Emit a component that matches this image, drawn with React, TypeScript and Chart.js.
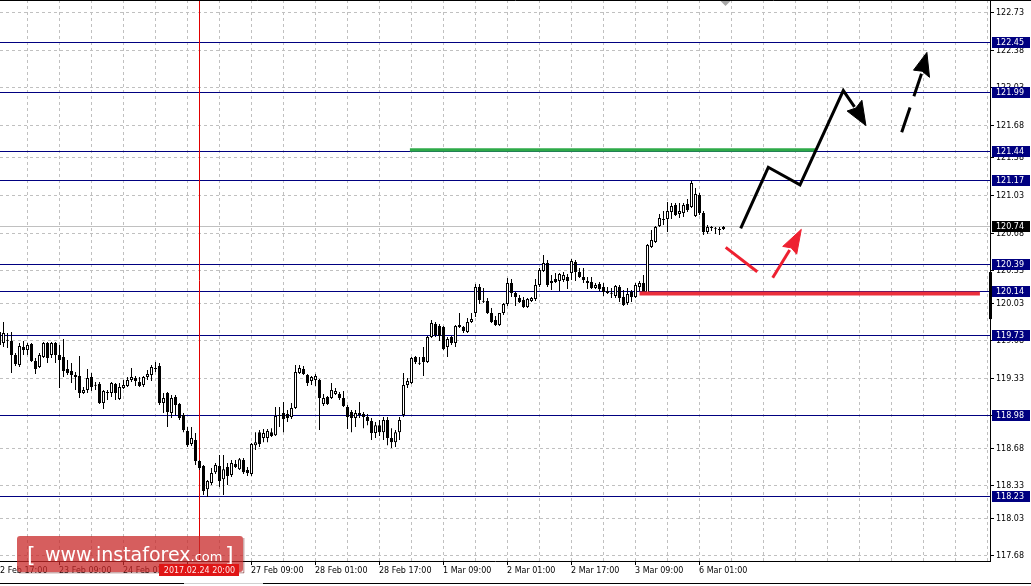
import React, { useEffect, useRef } from "react";
import { Chart, registerables } from "chart.js";

Chart.register(...registerables);

// ---- Candles (H1 USDJPY) ----
const OPEN = [
  119.760, 119.658, 119.686, 119.677, 119.547, 119.454, 119.621, 119.593, 119.649, 119.491,
  119.435, 119.528, 119.658, 119.547, 119.658, 119.547, 119.528, 119.416, 119.398, 119.361,
  119.351, 119.193, 119.221, 119.342, 119.268, 119.277, 119.100, 119.202, 119.193, 119.277,
  119.137, 119.240, 119.258, 119.314, 119.333, 119.295, 119.268, 119.342, 119.361, 119.426,
  119.444, 119.100, 119.193, 119.007, 119.156, 119.091, 118.989, 118.840, 118.719, 118.756,
  118.561, 118.514, 118.300, 118.356, 118.458, 118.514, 118.393, 118.505, 118.431, 118.533,
  118.486, 118.570, 118.477, 118.440, 118.709, 118.830, 118.775, 118.775, 118.830, 118.802,
  118.979, 119.007, 118.998, 118.970, 119.054, 119.379, 119.416, 119.361, 119.305, 119.314,
  119.314, 119.091, 119.156, 119.147, 119.184, 119.184, 119.147, 119.063, 119.016, 118.961,
  119.007, 118.998, 118.970, 118.933, 118.821, 118.895, 118.830, 118.942, 118.775, 118.737,
  118.830, 118.989, 119.268, 119.286, 119.528, 119.472, 119.528, 119.481, 119.714, 119.835,
  119.816, 119.807, 119.621, 119.714, 119.658, 119.807, 119.807, 119.760, 119.853, 119.937,
  120.179, 120.049, 120.049, 119.937, 119.872, 119.826, 119.937, 120.021, 120.216, 120.123,
  120.077, 120.058, 119.993, 120.049, 120.068, 120.198, 120.328, 120.402, 120.216, 120.254,
  120.235, 120.244, 120.272, 120.309, 120.411, 120.318, 120.272, 120.235, 120.226, 120.170,
  120.207, 120.179, 120.142, 120.123, 120.095, 120.179, 120.086, 120.030, 120.133, 120.086,
  120.179, 120.216, 120.123, 120.551, 120.597, 120.746, 120.802, 120.811, 120.876, 120.941,
  120.858, 120.867, 120.951, 120.923, 120.839, 121.035, 120.867, 120.690, 120.737, 120.728,
  120.709, 120.718,
];
const HIGH = [
  119.826, 119.853, 119.751, 119.760, 119.565, 119.658, 119.677, 119.658, 119.658, 119.519,
  119.565, 119.667, 119.667, 119.667, 119.667, 119.640, 119.695, 119.500, 119.472, 119.388,
  119.537, 119.249, 119.416, 119.379, 119.295, 119.295, 119.221, 119.221, 119.295, 119.286,
  119.286, 119.314, 119.342, 119.426, 119.351, 119.342, 119.351, 119.407, 119.454, 119.481,
  119.472, 119.193, 119.202, 119.175, 119.175, 119.100, 119.007, 118.877, 118.877, 118.821,
  118.570, 118.524, 118.384, 118.496, 118.542, 118.617, 118.617, 118.542, 118.570, 118.570,
  118.589, 118.589, 118.505, 118.728, 118.830, 118.849, 118.858, 118.858, 118.867, 119.063,
  119.063, 119.110, 119.035, 119.100, 119.454, 119.454, 119.444, 119.370, 119.351, 119.370,
  119.323, 119.184, 119.165, 119.286, 119.240, 119.202, 119.212, 119.082, 119.035, 119.035,
  119.110, 119.016, 118.998, 118.961, 118.923, 118.942, 118.970, 118.970, 118.867, 118.849,
  118.970, 119.379, 119.333, 119.528, 119.537, 119.528, 119.621, 119.723, 119.872, 119.853,
  119.835, 119.816, 119.714, 119.723, 119.826, 119.937, 119.816, 119.891, 119.937, 120.207,
  120.207, 120.170, 120.077, 119.984, 119.909, 119.937, 120.030, 120.263, 120.254, 120.133,
  120.105, 120.086, 120.077, 120.086, 120.254, 120.356, 120.477, 120.430, 120.291, 120.309,
  120.309, 120.318, 120.300, 120.439, 120.430, 120.356, 120.356, 120.272, 120.272, 120.216,
  120.226, 120.216, 120.179, 120.170, 120.198, 120.198, 120.151, 120.170, 120.151, 120.216,
  120.235, 120.291, 120.579, 120.709, 120.746, 120.858, 120.886, 120.969, 120.960, 120.960,
  120.960, 120.960, 120.997, 121.165, 121.100, 121.053, 120.886, 120.756, 120.746, 120.737,
  120.737, 120.746,
];
const LOW = [
  119.612, 119.621, 119.612, 119.379, 119.444, 119.435, 119.547, 119.547, 119.481, 119.370,
  119.426, 119.519, 119.472, 119.519, 119.472, 119.240, 119.342, 119.361, 119.286, 119.221,
  119.147, 119.184, 119.193, 119.212, 119.221, 119.091, 119.044, 119.128, 119.156, 119.128,
  119.128, 119.230, 119.249, 119.295, 119.258, 119.249, 119.249, 119.314, 119.305, 119.388,
  119.082, 119.007, 118.877, 118.961, 118.989, 118.942, 118.830, 118.691, 118.700, 118.524,
  118.477, 118.245, 118.226, 118.338, 118.440, 118.319, 118.245, 118.338, 118.412, 118.496,
  118.477, 118.440, 118.421, 118.421, 118.663, 118.691, 118.737, 118.737, 118.784, 118.793,
  118.877, 118.830, 118.923, 118.951, 119.044, 119.370, 119.361, 119.258, 119.268, 119.258,
  118.849, 119.072, 119.082, 119.137, 119.175, 119.128, 119.063, 118.858, 118.830, 118.877,
  118.961, 118.867, 118.895, 118.756, 118.775, 118.793, 118.756, 118.709, 118.682, 118.691,
  118.756, 118.970, 119.240, 119.277, 119.463, 119.454, 119.351, 119.472, 119.705, 119.714,
  119.677, 119.593, 119.528, 119.640, 119.621, 119.798, 119.751, 119.751, 119.844, 119.900,
  120.021, 120.030, 119.928, 119.844, 119.816, 119.816, 119.919, 120.002, 120.086, 120.002,
  120.030, 119.984, 119.984, 120.040, 120.049, 120.179, 120.318, 120.179, 120.151, 120.216,
  120.142, 120.226, 120.161, 120.244, 120.235, 120.263, 120.216, 120.161, 120.161, 120.161,
  120.142, 120.095, 120.114, 120.077, 120.077, 120.040, 120.002, 120.012, 120.040, 120.077,
  120.142, 120.123, 120.114, 120.542, 120.588, 120.737, 120.756, 120.690, 120.811, 120.839,
  120.821, 120.830, 120.876, 120.914, 120.830, 120.849, 120.663, 120.672, 120.700, 120.672,
  120.663, 120.709,
];
const CLOSE = [
  119.640, 119.751, 119.681, 119.547, 119.463, 119.630, 119.593, 119.640, 119.491, 119.416,
  119.547, 119.658, 119.519, 119.658, 119.547, 119.500, 119.398, 119.379, 119.361, 119.342,
  119.193, 119.221, 119.333, 119.249, 119.263, 119.100, 119.212, 119.193, 119.286, 119.193,
  119.249, 119.268, 119.314, 119.342, 119.305, 119.258, 119.342, 119.370, 119.435, 119.416,
  119.100, 119.147, 119.016, 119.147, 119.082, 118.961, 118.849, 118.709, 118.775, 118.561,
  118.496, 118.282, 118.375, 118.449, 118.524, 118.375, 118.486, 118.421, 118.542, 118.505,
  118.579, 118.458, 118.449, 118.719, 118.737, 118.719, 118.821, 118.840, 118.793, 118.979,
  118.989, 118.951, 118.961, 119.054, 119.388, 119.426, 119.370, 119.286, 119.342, 119.351,
  119.147, 119.147, 119.091, 119.221, 119.212, 119.147, 119.072, 118.970, 118.961, 119.007,
  118.989, 118.970, 118.933, 118.821, 118.895, 118.830, 118.942, 118.775, 118.737, 118.830,
  118.942, 119.268, 119.305, 119.519, 119.481, 119.467, 119.481, 119.714, 119.844, 119.733,
  119.723, 119.602, 119.695, 119.658, 119.816, 119.826, 119.770, 119.853, 119.881, 120.179,
  120.058, 120.044, 119.937, 119.853, 119.826, 119.937, 120.021, 120.216, 120.123, 120.086,
  120.040, 119.993, 120.068, 120.077, 120.198, 120.337, 120.402, 120.198, 120.235, 120.226,
  120.300, 120.291, 120.235, 120.421, 120.318, 120.272, 120.244, 120.216, 120.170, 120.198,
  120.161, 120.133, 120.123, 120.118, 120.188, 120.077, 120.012, 120.114, 120.086, 120.198,
  120.216, 120.133, 120.570, 120.616, 120.737, 120.821, 120.811, 120.886, 120.932, 120.849,
  120.886, 120.941, 120.895, 121.146, 121.044, 120.867, 120.690, 120.737, 120.728, 120.723,
  120.718, 120.737,
];

// ---- Levels, ticks, labels ----
const LEVELS = [122.45, 121.99, 121.44, 121.17, 120.39, 120.14, 119.73, 118.98, 118.23];
const CURRENT_PRICE = 120.74;
const Y_TICKS = [122.73, 122.38, 122.03, 121.68, 121.38, 121.03, 120.68, 120.33, 120.03,
  119.68, 119.33, 118.98, 118.68, 118.33, 118.03, 117.68];
const X_LABELS = ["22 Feb 17:00", "23 Feb 09:00", "24 Feb 01:00", "24 Feb 17:00", "27 Feb 09:00",
  "28 Feb 01:00", "28 Feb 17:00", "1 Mar 09:00", "2 Mar 01:00", "2 Mar 17:00", "3 Mar 09:00", "6 Mar 01:00"];
const X_LABEL_INDEX = [-1, 15, 31, 47, 63, 79, 95, 111, 127, 143, 159, 175];
const MARKER_INDEX = 50;
const MARKER_LABEL = "2017.02.24 20:00";

// ---- Drawn objects (bar index, price) ----
const GREEN_LINE = [{ x: 102.6, y: 121.452 }, { x: 204.1, y: 121.452 }];
const RED_LINE = [{ x: 160.0, y: 120.118 }, { x: 245.1, y: 120.118 }];
const BLACK_PATH = [
  { x: 185.3, y: 120.725 }, { x: 192.2, y: 121.292 }, { x: 200.125, y: 121.128 },
  { x: 210.95, y: 122.005 }, { x: 213.75, y: 121.854 },
];
const BLACK_DASHED = [{ x: 225.55, y: 121.618 }, { x: 230.5, y: 122.161 }];
const RED_DOWN = [{ x: 181.55, y: 120.548 }, { x: 189.45, y: 120.321 }];
const RED_UP = [{ x: 193.3, y: 120.265 }, { x: 197.55, y: 120.523 }];
// [tipX, tipY, leftX, leftY, rightX, rightY]
const BLACK_HEADS = [
  [216.6, 121.680, 211.9, 121.815, 215.6, 121.915],
  [231.85, 122.360, 228.5, 122.195, 232.5, 122.128],
];
const RED_HEADS = [[200.45, 120.715, 195.8, 120.556, 199.3, 120.484]];

// axis bounds
const X_MIN = 0.125;
const X_MAX = 247.625;
const Y_MIN = 117.632;
const Y_MAX = 122.847;

const FONT = '8px "DejaVu Sans", sans-serif';

const mt4Plugin = {
  id: "mt4",
  beforeDatasetsDraw(chart: any) {
    const { ctx, chartArea: a, scales } = chart;
    const x = scales.x;
    const y = scales.y;
    ctx.save();
    ctx.lineWidth = 1;
    const yc = Math.floor(y.getPixelForValue(CURRENT_PRICE)) + 0.5;
    ctx.strokeStyle = "#c0c0c0";
    ctx.beginPath();
    ctx.moveTo(a.left, yc);
    ctx.lineTo(a.right, yc);
    ctx.stroke();
    ctx.strokeStyle = "#000080";
    ctx.beginPath();
    for (const lv of LEVELS) {
      const py = Math.floor(y.getPixelForValue(lv)) + 0.5;
      ctx.moveTo(a.left, py);
      ctx.lineTo(a.right, py);
    }
    ctx.stroke();
    const mx = Math.floor(x.getPixelForValue(MARKER_INDEX)) + 0.5;
    ctx.strokeStyle = "#e00000";
    ctx.beginPath();
    ctx.moveTo(mx, a.top);
    ctx.lineTo(mx, a.bottom);
    ctx.stroke();
    ctx.restore();
  },
  afterDatasetsDraw(chart: any) {
    const { ctx, scales } = chart;
    const x = scales.x;
    const y = scales.y;
    const head = (h: number[], color: string) => {
      const tx = x.getPixelForValue(h[0]), ty = y.getPixelForValue(h[1]);
      const lx = x.getPixelForValue(h[2]), ly = y.getPixelForValue(h[3]);
      const rx = x.getPixelForValue(h[4]), ry = y.getPixelForValue(h[5]);
      const bx = (lx + rx) / 2, by = (ly + ry) / 2;
      const nx = bx + (tx - bx) * 0.12, ny = by + (ty - by) * 0.12;
      ctx.beginPath();
      ctx.moveTo(tx, ty);
      ctx.lineTo(lx, ly);
      ctx.lineTo(nx, ny);
      ctx.lineTo(rx, ry);
      ctx.closePath();
      ctx.fillStyle = color;
      ctx.fill();
      ctx.strokeStyle = color;
      ctx.lineWidth = 1;
      ctx.lineJoin = "round";
      ctx.stroke();
    };
    ctx.save();
    BLACK_HEADS.forEach((h) => head(h, "#000000"));
    RED_HEADS.forEach((h) => head(h, "#ee2030"));
    ctx.restore();
  },
  afterDraw(chart: any) {
    const { ctx, chartArea: a, scales, width } = chart;
    const x = scales.x;
    const y = scales.y;
    ctx.save();
    // frame
    ctx.strokeStyle = "#000";
    ctx.lineWidth = 1;
    ctx.beginPath();
    ctx.moveTo(0, 0.5);
    ctx.lineTo(width, 0.5);
    ctx.moveTo(a.right + 0.5, 0);
    ctx.lineTo(a.right + 0.5, a.bottom + 1);
    ctx.moveTo(0, a.bottom + 0.5);
    ctx.lineTo(a.right + 1, a.bottom + 0.5);
    ctx.stroke();
    // scroll bar on axis
    const sb1 = y.getPixelForValue(120.318), sb2 = y.getPixelForValue(119.881);
    ctx.fillStyle = "#000";
    ctx.fillRect(a.right - 1, sb1, 3, sb2 - sb1);
    // shift marker
    const sx = x.getPixelForValue(181.5);
    ctx.fillStyle = "#a8a8a8";
    ctx.beginPath();
    ctx.moveTo(sx - 5, 1);
    ctx.lineTo(sx + 5, 1);
    ctx.lineTo(sx, 6);
    ctx.closePath();
    ctx.fill();

    // y labels
    ctx.font = FONT;
    ctx.textAlign = "left";
    ctx.textBaseline = "middle";
    ctx.fillStyle = "#000";
    for (const v of Y_TICKS) {
      ctx.fillText(v.toFixed(2), a.right + 6, Math.floor(y.getPixelForValue(v)) + 1);
    }
    const box = (v: number, bg: string) => {
      const py = Math.floor(y.getPixelForValue(v));
      ctx.fillStyle = bg;
      ctx.fillRect(a.right + 2, py - 5, 38, 11);
      ctx.fillStyle = "#fff";
      ctx.fillText(v.toFixed(2), a.right + 6, py + 1);
    };
    LEVELS.forEach((lv) => box(lv, "#000080"));
    box(CURRENT_PRICE, "#000000");

    // x labels
    ctx.fillStyle = "#000";
    X_LABEL_INDEX.forEach((iv, k) => {
      ctx.fillText(X_LABELS[k], Math.round(x.getPixelForValue(iv)) - 1, a.bottom + 9.5);
    });

    // tab bar
    ctx.strokeStyle = "#000";
    ctx.beginPath();
    ctx.moveTo(0, 583.5);
    ctx.lineTo(184, 583.5);
    ctx.moveTo(263, 583.5);
    ctx.lineTo(width, 583.5);
    ctx.stroke();
    ctx.strokeStyle = "#d0d0d0";
    ctx.beginPath();
    ctx.moveTo(184, 583.5);
    ctx.lineTo(263, 583.5);
    ctx.stroke();

    // watermark
    ctx.fillStyle = "rgba(200,40,40,0.75)";
    ctx.beginPath();
    if ((ctx as any).roundRect) (ctx as any).roundRect(17, 536, 226, 36, 3);
    else ctx.rect(17, 536, 226, 36);
    ctx.fill();
    ctx.fillStyle = "rgba(110,20,20,0.35)";
    ctx.fillRect(19, 572, 225, 1.5);
    ctx.fillRect(243, 538, 1.5, 35);
    ctx.fillStyle = "#fff";
    ctx.textBaseline = "alphabetic";
    ctx.font = '19px "DejaVu Sans", sans-serif';
    ctx.fillText("www.instaforex", 45, 561);
    const w = ctx.measureText("www.instaforex").width;
    ctx.font = '13px "DejaVu Sans", sans-serif';
    ctx.fillText(".com", 45 + w, 561);
    ctx.font = '22px "DejaVu Sans", sans-serif';
    ctx.fillText("[", 27, 562);
    ctx.fillText("]", 225, 562);

    // marker date label
    ctx.font = FONT;
    ctx.textBaseline = "middle";
    const mx = Math.floor(x.getPixelForValue(MARKER_INDEX)) + 0.5;
    const tw = ctx.measureText(MARKER_LABEL).width + 9;
    ctx.fillStyle = "#e01515";
    ctx.fillRect(Math.round(mx - tw / 2), a.bottom + 3, Math.round(tw), 12);
    ctx.fillStyle = "#ffe8e8";
    ctx.textAlign = "center";
    ctx.fillText(MARKER_LABEL, mx, a.bottom + 9.5);
    ctx.restore();
  },
};

export default function App() {
  const ref = useRef<HTMLCanvasElement>(null);
  useEffect(() => {
    const canvas = ref.current;
    if (!canvas) return;
    const bodies = OPEN.map((o, i) => {
      const c = CLOSE[i];
      let lo = Math.min(o, c);
      let hi = Math.max(o, c);
      if (hi - lo < 0.006) {
        const m = (hi + lo) / 2;
        lo = m - 0.0047;
        hi = m + 0.0047;
      }
      return { x: i, y: [lo, hi] };
    });
    const bodyColors = OPEN.map((o, i) => (CLOSE[i] - o > 0.006 ? "#ffffff" : "#000000"));
    const wicks = OPEN.map((_, i) => ({ x: i, y: [LOW[i], HIGH[i]] }));
    const xGrid: number[] = [];
    for (let v = 7; v <= X_MAX; v += 8) xGrid.push(v);

    const lineDs = (data: any[], color: string, width: number, extra: any = {}) => ({
      type: "line",
      data,
      borderColor: color,
      borderWidth: width,
      pointRadius: 0,
      fill: false,
      tension: 0,
      order: 4,
      ...extra,
    });

    const chart = new Chart(canvas, {
      type: "bar",
      data: {
        datasets: [
          {
            type: "bar",
            data: bodies,
            backgroundColor: bodyColors,
            borderColor: "#000000",
            borderWidth: 1,
            borderSkipped: false,
            grouped: false,
            maxBarThickness: 3,
            categoryPercentage: 1,
            barPercentage: 1,
            inflateAmount: 0,
            order: 6,
          },
          {
            type: "bar",
            data: wicks,
            backgroundColor: "#000000",
            borderWidth: 0,
            grouped: false,
            maxBarThickness: 1,
            categoryPercentage: 1,
            barPercentage: 1,
            inflateAmount: 0,
            order: 7,
          },
          lineDs(GREEN_LINE, "#2eaa48", 3.5, { order: 5 }),
          lineDs(RED_LINE, "#ec2f3b", 4, { order: 5 }),
          lineDs(BLACK_PATH, "#000000", 3),
          lineDs(BLACK_DASHED, "#000000", 3, { borderDash: [26, 12] }),
          lineDs(RED_DOWN, "#ee2030", 3),
          lineDs(RED_UP, "#ee2030", 3),
        ] as any,
      },
      options: {
        responsive: false,
        animation: false,
        devicePixelRatio: 1,
        events: [],
        layout: { padding: 0 },
        plugins: {
          legend: { display: false },
          tooltip: { enabled: false },
          title: { display: false },
        },
        scales: {
          x: {
            type: "linear",
            position: "bottom",
            min: X_MIN,
            max: X_MAX,
            offset: false,
            grid: {
              offset: false,
              color: "#c0c0c0",
              lineWidth: 1,
              drawTicks: true,
              tickLength: 4,
              tickColor: (c: any) =>
                c.tick && X_LABEL_INDEX.includes(c.tick.value) ? "#000000" : "rgba(0,0,0,0)",
            },
            border: { display: false, dash: [3, 3] },
            ticks: { display: false },
            afterBuildTicks: (s: any) => {
              s.ticks = xGrid.map((v) => ({ value: v }));
            },
            afterFit: (s: any) => {
              s.height = 25;
            },
          },
          y: {
            type: "linear",
            position: "right",
            min: Y_MIN,
            max: Y_MAX,
            grid: { color: "#c0c0c0", lineWidth: 1, tickLength: 4, tickColor: "#000000" },
            border: { display: false, dash: [3, 3] },
            ticks: { display: false },
            afterBuildTicks: (s: any) => {
              s.ticks = Y_TICKS.map((v) => ({ value: v }));
            },
            afterFit: (s: any) => {
              s.width = 41;
            },
          },
        },
      } as any,
      plugins: [mt4Plugin as any],
    });
    return () => chart.destroy();
  }, []);

  return (
    <div style={{ position: "absolute", left: 0, top: 0, width: 1031, height: 586, background: "#ffffff" }}>
      <canvas ref={ref} width={1031} height={586} style={{ display: "block", width: 1031, height: 586 }} />
    </div>
  );
}
